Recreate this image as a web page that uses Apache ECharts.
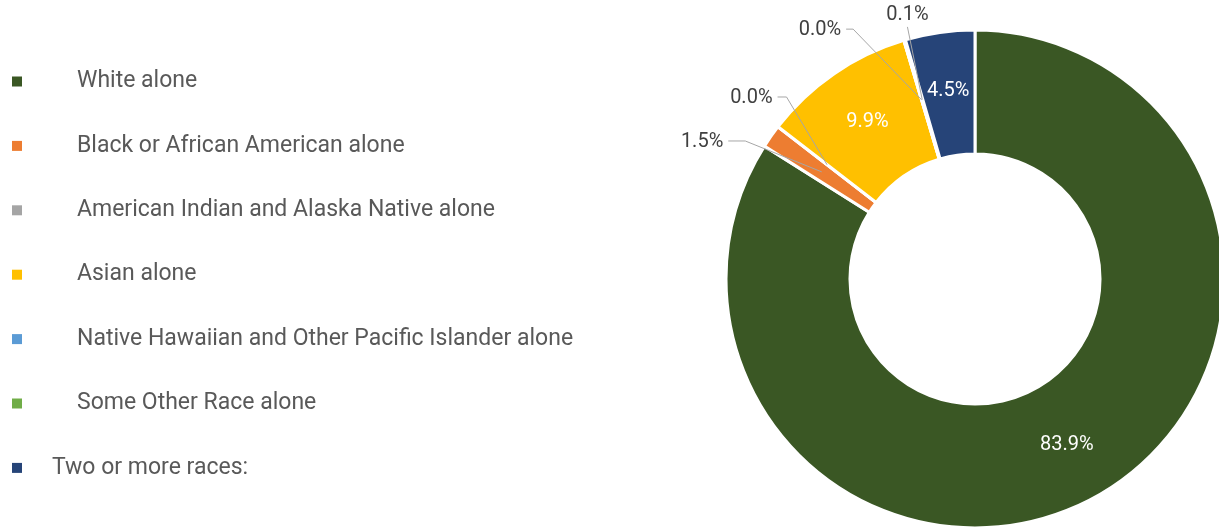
<!DOCTYPE html>
<html>
<head>
<meta charset="utf-8">
<script src="https://cdn.jsdelivr.net/npm/echarts@6/dist/echarts.min.js"></script>
<style>
  html, body { margin: 0; padding: 0; background: #ffffff; }
  #chart { width: 1219px; height: 529px; }
</style>
</head>
<body>
<div id="chart"></div>
<script>
// race categories, in drawing order (clockwise from 12 o'clock)
const categories = [
  "White alone",
  "Black or African American alone",
  "American Indian and Alaska Native alone",
  "Asian alone",
  "Native Hawaiian and Other Pacific Islander alone",
  "Some Other Race alone",
  "Two or more races:"
];
// share of population, percent
const shares = [83.9, 1.5, 0.02, 9.9, 0.01, 0.1, 4.5];
const colors = ["#3a5724", "#ed7d31", "#a5a5a5", "#ffc000", "#5b9bd5", "#70ad47", "#264478"];
// which labels sit inside the ring
const insideLabel = [true, false, false, true, false, false, true];

// ring geometry
const CX = 975, CY = 279, R_IN = 125, R_OUT = 249;
// where the outside labels go: elbow of the leader line (polar, deg clockwise from top)
const outsideSpot = {
  1: { angle: 301, radius: 268, tail: 17 },
  2: { angle: 314, radius: 262, tail: 9 },
  4: { angle: 334, radius: 278, tail: 7 },
  5: { angle: 345, radius: 261, tail: 0 }
};

function polar(angle, radius) {
  const a = angle * Math.PI / 180;
  return [CX + radius * Math.sin(a), CY - radius * Math.cos(a)];
}

const chart = echarts.init(document.getElementById("chart"));

const ring = {
  type: "pie",
  center: [CX, CY],
  radius: [R_IN, R_OUT],
  startAngle: 90,
  clockwise: true,
  avoidLabelOverlap: false,
  emphasis: { disabled: true }
};

const option = {
  animation: false,
  color: colors,
  legend: {
    orient: "vertical",
    left: 7,
    top: 65,
    icon: "rect",
    itemWidth: 10,
    itemHeight: 10,
    itemGap: 41.4,
    itemStyle: { borderWidth: 0 },
    selectedMode: false,
    textStyle: {
      fontFamily: "Roboto",
      fontSize: 23,
      color: "#595959",
      lineHeight: 20,
      padding: [0, 0, 0, 50]
    },
    data: categories.map((name, i) => (
      i === categories.length - 1
        ? { name, textStyle: { padding: [0, 0, 0, 25] } }
        : { name }
    ))
  },
  series: [
    // the coloured ring
    Object.assign({}, ring, {
      name: "ring",
      z: 2,
      itemStyle: { borderColor: "#ffffff", borderWidth: 3 },
      label: { show: false },
      labelLine: { show: false },
      data: categories.map((name, i) => ({ name, value: shares[i] }))
    }),
    // same ring, transparent, on top: carries the labels so the leader lines sit above the slices
    Object.assign({}, ring, {
      name: "labels",
      z: 3,
      silent: true,
      legendHoverLink: false,
      itemStyle: { color: "rgba(0,0,0,0)", borderWidth: 0 },
      label: {
        fontFamily: "Roboto",
        fontSize: 20,
        formatter: (p) => p.value.toFixed(1) + "%"
      },
      labelLine: {
        length: 20,
        length2: 12,
        lineStyle: { color: "#a6a6a6", width: 1 }
      },
      // leader lines start in the middle of the ring, like the original
      labelLayout: (params) => {
        const spot = outsideSpot[params.dataIndex];
        if (!spot || !params.labelLinePoints) return {};
        const p0 = params.labelLinePoints[0];
        const k = (R_IN + R_OUT) / 2 / R_OUT;
        const anchor = [CX + (p0[0] - CX) * k, CY + (p0[1] - CY) * k];
        const elbow = polar(spot.angle, spot.radius);
        if (spot.tail) {
          const tailEnd = [elbow[0] - spot.tail, elbow[1]];
          return {
            x: tailEnd[0] - 5,
            y: tailEnd[1] + 1,
            align: "right",
            verticalAlign: "middle",
            labelLinePoints: [anchor, elbow, tailEnd]
          };
        }
        return {
          x: elbow[0],
          y: elbow[1] - 2,
          align: "center",
          verticalAlign: "bottom",
          labelLinePoints: [anchor, elbow, elbow]
        };
      },
      data: categories.map((name, i) => ({
        name,
        value: shares[i],
        label: insideLabel[i]
          ? { position: "inside", color: "#ffffff" }
          : { position: "outside", color: "#404040" },
        labelLine: { show: !insideLabel[i] }
      }))
    })
  ]
};

chart.setOption(option);
</script>
</body>
</html>
